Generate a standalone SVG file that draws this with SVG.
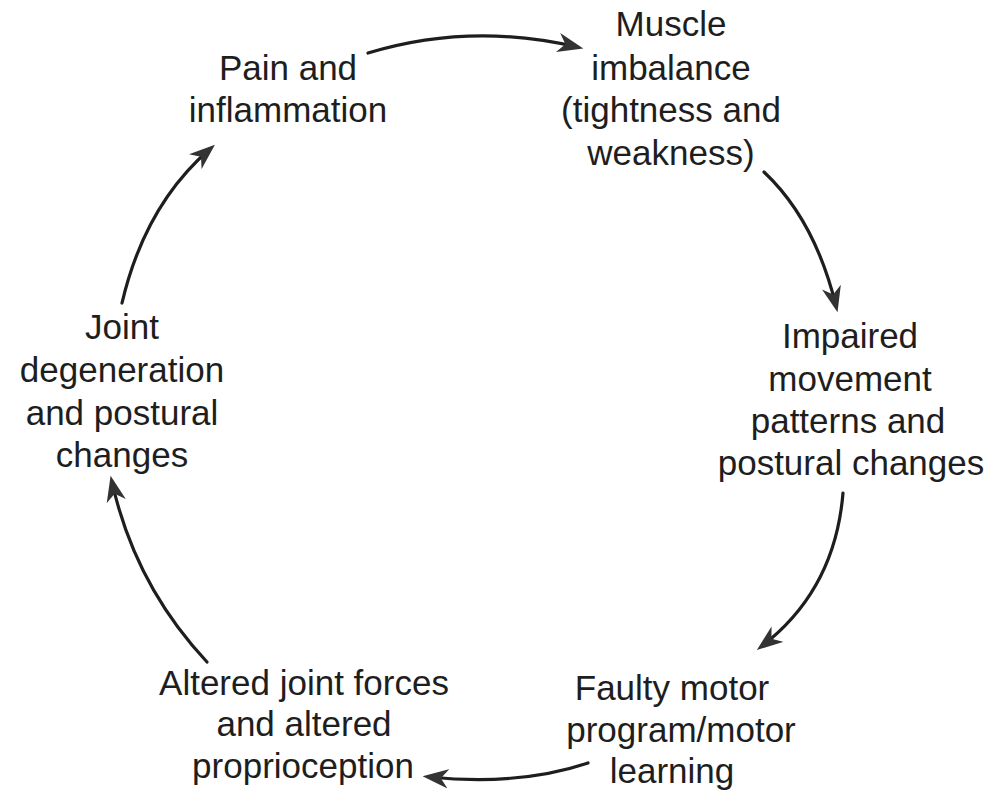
<svg xmlns="http://www.w3.org/2000/svg" width="992" height="793" viewBox="0 0 992 793">
<defs>
<style>
.lbl{font-family:"Liberation Sans",Arial,sans-serif;font-size:35px;fill:#1e1e1e;text-anchor:middle}
.arr{fill:none;stroke:#1e1e1e;stroke-width:3.2;stroke-linecap:round;marker-end:url(#ah)}
</style>
<marker id="ah" markerUnits="userSpaceOnUse" markerWidth="26" markerHeight="20" viewBox="0 0 24 18" refX="18" refY="9" orient="auto">
<path d="M0,0 L24,9 L0,18 L7,9 z" fill="#333333"/>
</marker>
</defs>
<rect width="992" height="793" fill="#ffffff"/>
<g id="connectors">
<path class="arr" d="M368,53 Q470,22 577,47"/>
<path class="arr" d="M764,172 Q815,220 836,306"/>
<path class="arr" d="M843,493 Q835,590 762,646"/>
<path class="arr" d="M588,763 Q520,786 429,777"/>
<path class="arr" d="M207,662 Q135,585 112,482"/>
<path class="arr" d="M122,303 Q145,205 210,149"/>
</g>
<g id="pain">
<text class="lbl" x="288" y="80">Pain and</text>
<text class="lbl" x="288" y="122">inflammation</text>
</g>
<g id="muscle">
<text class="lbl" x="671" y="36">Muscle</text>
<text class="lbl" x="671" y="80">imbalance</text>
<text class="lbl" x="671" y="122">(tightness and</text>
<text class="lbl" x="671" y="165">weakness)</text>
</g>
<g id="impaired">
<text class="lbl" x="850" y="348">Impaired</text>
<text class="lbl" x="850" y="391">movement</text>
<text class="lbl" x="848" y="433">patterns and</text>
<text class="lbl" x="851" y="475">postural changes</text>
</g>
<g id="faulty">
<text class="lbl" x="672" y="700">Faulty motor</text>
<text class="lbl" x="681" y="742">program/motor</text>
<text class="lbl" x="672" y="783">learning</text>
</g>
<g id="altered">
<text class="lbl" x="304" y="695">Altered joint forces</text>
<text class="lbl" x="304" y="736">and altered</text>
<text class="lbl" x="303" y="778">proprioception</text>
</g>
<g id="joint">
<text class="lbl" x="122" y="339">Joint</text>
<text class="lbl" x="122" y="382">degeneration</text>
<text class="lbl" x="122" y="425">and postural</text>
<text class="lbl" x="122" y="467">changes</text>
</g>
</svg>
